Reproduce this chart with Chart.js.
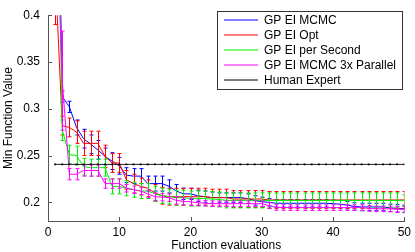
<!DOCTYPE html>
<html>
<head>
<meta charset="utf-8">
<script src="https://cdn.jsdelivr.net/npm/chart.js@4/dist/chart.umd.min.js"></script>
<style>
  html, body { margin: 0; padding: 0; background: #fff; }
  #wrap { width: 415px; height: 252px; }
</style>
</head>
<body>
<div id="wrap"><canvas id="chart"></canvas></div>
<script>
const EVALS = Array.from({ length: 50 }, (_, i) => i + 1);

const SERIES_LABELS = ['GP EI MCMC', 'GP EI Opt', 'GP EI per Second', 'GP EI MCMC 3x Parallel', 'Human Expert'];
const SERIES_COLORS = ['#0000ff', '#ff0000', '#00ee00', '#ff00ff', '#000000'];

const mcmc = [0.75, 0.313, 0.302, 0.280, 0.268, 0.262, 0.256, 0.249, 0.244, 0.239,
  0.229, 0.228, 0.228, 0.220, 0.220, 0.220, 0.217, 0.212, 0.209, 0.209,
  0.207, 0.206, 0.205, 0.205, 0.205, 0.205, 0.205, 0.204, 0.202, 0.2005,
  0.200, 0.199, 0.199, 0.199, 0.199, 0.199, 0.199, 0.199, 0.199, 0.1985,
  0.198, 0.197, 0.1955, 0.195, 0.195, 0.195, 0.195, 0.194, 0.1935, 0.193];
const mcmcErr = [0.05, 0.006, 0.006, 0.008, 0.01, 0.01, 0.01, 0.009, 0.009, 0.009,
  0.008, 0.008, 0.008, 0.008, 0.008, 0.008, 0.007, 0.007, 0.006, 0.006,
  0.006, 0.006, 0.006, 0.005, 0.005, 0.005, 0.005, 0.005, 0.005, 0.005,
  0.004, 0.004, 0.004, 0.004, 0.004, 0.004, 0.004, 0.004, 0.004, 0.004,
  0.004, 0.004, 0.004, 0.004, 0.004, 0.004, 0.004, 0.004, 0.004, 0.004];

const opt = [0.45, 0.282, 0.280, 0.275, 0.263, 0.263, 0.263, 0.249, 0.242, 0.242,
  0.224, 0.220, 0.217, 0.215, 0.210, 0.207, 0.206, 0.206, 0.206, 0.206,
  0.206, 0.206, 0.205, 0.205, 0.205, 0.2035, 0.2035, 0.2035, 0.2035, 0.2035,
  0.2025, 0.2025, 0.2025, 0.2025, 0.2025, 0.2025, 0.2025, 0.2025, 0.2025, 0.2025,
  0.2025, 0.2025, 0.2025, 0.2025, 0.2025, 0.2025, 0.2025, 0.2025, 0.2025, 0.2025];
const optErr = [0.06, 0.01, 0.01, 0.012, 0.013, 0.013, 0.013, 0.012, 0.01, 0.01,
  0.01, 0.01, 0.009, 0.009, 0.009, 0.009, 0.009, 0.009, 0.009, 0.009,
  0.009, 0.009, 0.009, 0.009, 0.009, 0.009, 0.009, 0.009, 0.009, 0.009,
  0.009, 0.009, 0.009, 0.009, 0.009, 0.009, 0.009, 0.009, 0.009, 0.009,
  0.009, 0.009, 0.009, 0.009, 0.009, 0.009, 0.009, 0.009, 0.009, 0.009];

const perSec = [0.7, 0.277, 0.251, 0.250, 0.238, 0.237, 0.237, 0.237, 0.217, 0.217,
  0.215, 0.2135, 0.212, 0.212, 0.209, 0.207, 0.206, 0.205, 0.205, 0.204,
  0.204, 0.204, 0.2035, 0.203, 0.202, 0.202, 0.202, 0.202, 0.202, 0.202,
  0.202, 0.202, 0.202, 0.202, 0.202, 0.202, 0.202, 0.202, 0.202, 0.202,
  0.202, 0.202, 0.202, 0.202, 0.202, 0.202, 0.202, 0.202, 0.202, 0.202];
const perSecErr = [0.05, 0.011, 0.01, 0.01, 0.009, 0.009, 0.009, 0.009, 0.008, 0.008,
  0.008, 0.008, 0.008, 0.008, 0.008, 0.008, 0.008, 0.008, 0.008, 0.008,
  0.008, 0.008, 0.008, 0.008, 0.008, 0.008, 0.008, 0.008, 0.008, 0.008,
  0.008, 0.008, 0.008, 0.008, 0.008, 0.008, 0.008, 0.008, 0.008, 0.008,
  0.008, 0.008, 0.008, 0.008, 0.008, 0.008, 0.008, 0.008, 0.008, 0.006];

const parallel = [0.55, 0.33, 0.230, 0.230, 0.234, 0.234, 0.234, 0.220, 0.220, 0.220,
  0.215, 0.2135, 0.212, 0.209, 0.206, 0.2055, 0.205, 0.202, 0.201, 0.2005,
  0.1995, 0.199, 0.1985, 0.1985, 0.1985, 0.1985, 0.1985, 0.1985, 0.1985, 0.1985,
  0.1965, 0.1945, 0.1945, 0.1943, 0.1943, 0.1943, 0.1943, 0.1943, 0.1943, 0.1943,
  0.1943, 0.1943, 0.1943, 0.1943, 0.1935, 0.193, 0.193, 0.193, 0.1925, 0.1925];
const parallelErr = [0.08, 0.053, 0.006, 0.006, 0.006, 0.006, 0.006, 0.005, 0.005, 0.005,
  0.004, 0.004, 0.004, 0.004, 0.004, 0.004, 0.004, 0.004, 0.004, 0.004,
  0.003, 0.003, 0.003, 0.003, 0.003, 0.003, 0.003, 0.003, 0.003, 0.003,
  0.003, 0.003, 0.003, 0.003, 0.003, 0.003, 0.003, 0.003, 0.003, 0.003,
  0.003, 0.003, 0.003, 0.003, 0.003, 0.003, 0.003, 0.003, 0.003, 0.003];

const HUMAN_EXPERT = 0.2405;
const human = EVALS.map(() => HUMAN_EXPERT);

const X_TICKS = [0, 10, 20, 30, 40, 50];
const Y_TICKS = [0.2, 0.25, 0.3, 0.35, 0.4];

const FONT = 'Liberation Sans, Arial, sans-serif';

// vertical error bars with small caps, drawn after each dataset
const errorBarPlugin = {
  id: 'errorBars',
  afterDatasetDraw(chart, args) {
    const ds = chart.data.datasets[args.index];
    if (!ds._err) return;
    const { ctx, chartArea, scales } = chart;
    ctx.save();
    ctx.beginPath();
    ctx.rect(chartArea.left, chartArea.top, chartArea.right - chartArea.left, chartArea.bottom - chartArea.top);
    ctx.clip();
    ctx.strokeStyle = ds.borderColor;
    ctx.lineWidth = 1;
    ds.data.forEach((p, i) => {
      const e = ds._err[i];
      const x = Math.round(scales.x.getPixelForValue(p.x)) + 0.5;
      const y1 = scales.y.getPixelForValue(p.y - e);
      const y2 = scales.y.getPixelForValue(p.y + e);
      ctx.beginPath();
      ctx.moveTo(x, y1); ctx.lineTo(x, y2);
      ctx.moveTo(x - 2, y1); ctx.lineTo(x + 2, y1);
      ctx.moveTo(x - 2, y2); ctx.lineTo(x + 2, y2);
      ctx.stroke();
    });
    ctx.restore();
  }
};

// inward tick marks, matlab style
const innerTicksPlugin = {
  id: 'innerTicks',
  afterDraw(chart) {
    const { ctx, chartArea, scales } = chart;
    ctx.save();
    ctx.strokeStyle = '#555';
    ctx.lineWidth = 1;
    ctx.beginPath();
    X_TICKS.forEach(v => {
      const x = Math.round(scales.x.getPixelForValue(v)) + 0.5;
      ctx.moveTo(x, chartArea.bottom); ctx.lineTo(x, chartArea.bottom - 4);
    });
    Y_TICKS.forEach(v => {
      const y = Math.round(scales.y.getPixelForValue(v)) + 0.5;
      ctx.moveTo(chartArea.left, y); ctx.lineTo(chartArea.left + 4, y);
    });
    ctx.stroke();
    ctx.restore();
  }
};

const boxLegendPlugin = {
  id: 'boxLegend',
  afterDraw(chart) {
    const ctx = chart.ctx;
    const left = 217.5, top = 11.5, w = 185, h = 78;
    ctx.save();
    ctx.fillStyle = '#fff';
    ctx.fillRect(left, top, w, h);
    ctx.strokeStyle = '#333';
    ctx.lineWidth = 1;
    ctx.strokeRect(left, top, w, h);
    ctx.font = '12px ' + FONT;
    ctx.textBaseline = 'middle';
    SERIES_LABELS.forEach((label, i) => {
      const y = 20 + i * 15;
      ctx.strokeStyle = SERIES_COLORS[i];
      ctx.beginPath();
      ctx.moveTo(224, y); ctx.lineTo(258, y);
      ctx.stroke();
      ctx.fillStyle = '#000';
      ctx.fillText(label, 264, y + 0.5);
    });
    ctx.restore();
  }
};

function series(values, i, err, order) {
  return {
    label: SERIES_LABELS[i],
    data: EVALS.map((x, k) => ({ x, y: values[k] })),
    borderColor: SERIES_COLORS[i],
    backgroundColor: SERIES_COLORS[i],
    borderWidth: 1,
    pointRadius: 0,
    tension: 0,
    order: order,
    _err: err,
  };
}

new Chart(document.getElementById('chart'), {
  type: 'line',
  data: {
    datasets: [
      series(mcmc, 0, mcmcErr, 5),
      series(opt, 1, optErr, 4),
      series(perSec, 2, perSecErr, 3),
      series(parallel, 3, parallelErr, 2),
      Object.assign(series(human, 4, null, 1), {
        pointRadius: 1.3,
        pointStyle: 'rect',
        pointBorderWidth: 0,
        borderColor: '#222',
      }),
    ]
  },
  options: {
    responsive: true,
    maintainAspectRatio: false,
    animation: false,
    layout: { padding: { top: 5, right: 7, left: 0, bottom: 0 } },
    scales: {
      x: {
        type: 'linear',
        min: 0, max: 50,
        afterFit: s => { s.height = 31; },
        afterBuildTicks: s => { s.ticks = X_TICKS.map(v => ({ value: v })); },
        ticks: { color: '#000', padding: 4, font: { family: FONT, size: 12 }, maxRotation: 0 },
        grid: { display: false, drawTicks: false },
        border: { display: true, color: '#555' },
        title: { display: true, text: 'Function evaluations', color: '#000', font: { family: FONT, size: 12, lineHeight: 1 }, padding: { top: 0, bottom: 0 } }
      },
      y: {
        min: 0.18, max: 0.4,
        afterFit: s => { s.width = 48; },
        afterBuildTicks: s => { s.ticks = Y_TICKS.map(v => ({ value: v })); },
        ticks: { color: '#000', padding: 8, font: { family: FONT, size: 12 }, callback: v => String(Math.round(v * 100) / 100) },
        grid: { display: false, drawTicks: false },
        border: { display: true, color: '#555' },
        title: { display: true, text: 'Min Function Value', color: '#000', font: { family: FONT, size: 12 }, padding: { top: 1, bottom: 0 } }
      }
    },
    plugins: {
      legend: { display: false },
      tooltip: { enabled: false }
    }
  },
  plugins: [errorBarPlugin, innerTicksPlugin, boxLegendPlugin]
});
</script>
</body>
</html>
